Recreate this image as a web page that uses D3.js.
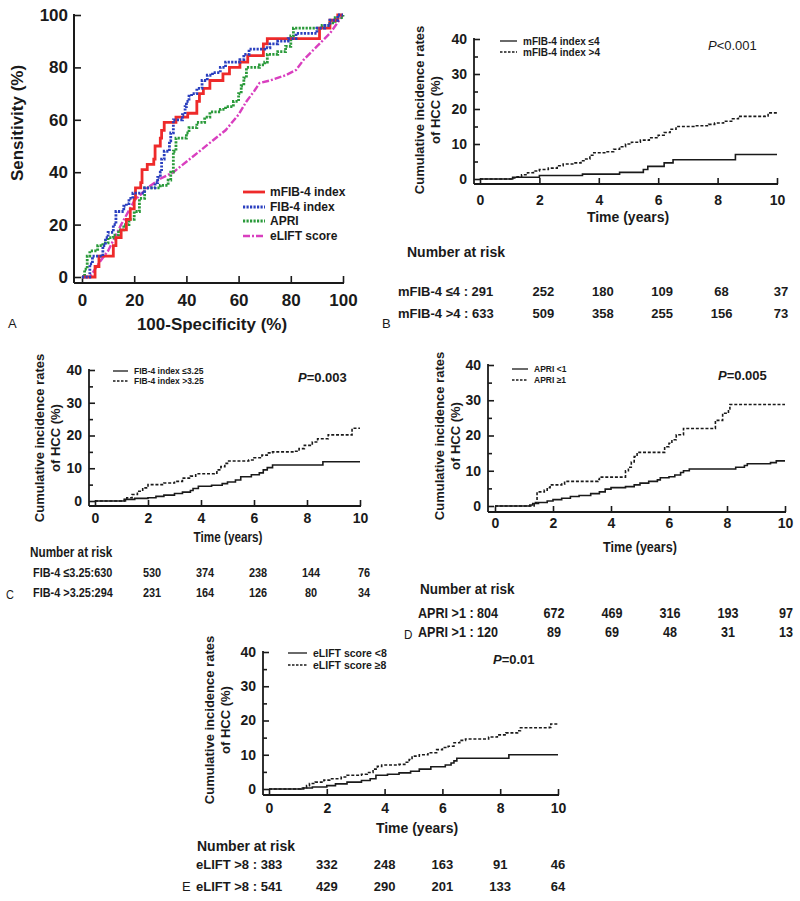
<!DOCTYPE html>
<html><head><meta charset="utf-8">
<script src="https://cdn.jsdelivr.net/npm/d3@7"></script>
<style>body{margin:0;background:#fff}</style>
</head><body><svg id="c" width="800" height="901"></svg>
<script>
// ---------- DATA ----------
// Panel A: ROC curves [100-specificity %, sensitivity %]
const rocMfib4 = [[0,0],[5,4],[6.5,8],[12,12],[13,15],[15,18],[17,22],[18.5,26],[20,30],[20.5,34],[22.5,36],[23,41],[25,43],[27.5,45],[28,50],[30,53],[30.5,56],[31.5,59],[36,61],[38,61],[40.5,62.5],[44,67],[45,70],[46.5,72],[49,75],[54,77.5],[56.5,80],[60.5,82],[63.5,84.5],[69.5,89],[71,91],[91,95],[95,98],[98,100],[100,100]];
const rocFib4 = [[0,0],[2,0],[3,5],[4,8],[8,12],[9,15],[10,17],[12,20],[13,25],[16,27],[17,28],[18,30],[19.5,32],[23,32],[24,34],[28,36],[29,38],[30,40],[30.5,45],[31.5,48],[33.5,52],[34,55],[35,60],[38.5,62],[39.5,65],[40,67],[41,69],[42,70],[44,72],[46,75],[48,77],[50,78],[53,80],[55,82],[60.5,83],[62,85],[64,87],[70,87.5],[72,89],[75,90],[79,91],[82,93],[90,95],[93,96],[95,98],[98,100],[100,100]];
const rocApri = [[0,0],[1,3],[2,8],[3,10],[6,12],[8,13],[10,15],[12,16],[14,18],[16,20],[18,22],[20,25],[22,30],[24,34],[30,35],[33,37],[34,40],[35,48],[36,53],[40,55],[41,57],[44,59],[47,61],[49,63],[53,64],[55,65],[58,67],[60,70],[61,73],[62,76],[63,80],[68,81],[70,82],[71,85],[75,86],[78,88],[80,92],[81,95],[92,96],[95,97],[97,99],[100,100]];
const rocElift = [[0,0],[3,0],[5,3],[7,6],[10,10],[15,20],[20,29],[25,34],[30,37.5],[35,40],[40,44],[45,48],[50,52],[55,56],[60,62],[63,67],[66,71],[68,74],[72,75],[78,77],[82,79],[85,83],[90,88],[95,93],[100,100]];
const rocNames = ["mFIB-4 index","FIB-4 index","APRI","eLIFT score"];
const rocTicks = [0,20,40,60,80,100];

// KM curves [time (years), cumulative incidence %]
const kmBLow = [[0,0],[1.1,0.5],[2,1],[3.45,1.4],[4.7,1.9],[5.5,2.7],[5.65,3.6],[6.2,4.6],[6.5,5.5],[8.6,7],[10,7]];
const kmBHigh = [[0,0],[1.1,0.3],[1.2,0.6],[1.4,1.2],[1.6,1.8],[1.8,2.3],[2,2.7],[2.3,3.1],[2.6,3.8],[2.8,4.3],[3.2,4.6],[3.4,5.2],[3.5,5.7],[3.7,6.8],[3.8,7.5],[4.2,7.8],[4.5,8.5],[4.7,9.2],[4.9,10],[5.1,10.5],[5.4,11.1],[5.7,11.8],[6,12.5],[6.2,13.3],[6.4,14.2],[6.6,15],[7.2,15.2],[7.7,15.6],[7.9,16],[8.2,16.5],[8.5,17.2],[8.7,17.9],[9.6,18],[9.7,18.9],[10,18.9]];
const kmCLow = [[0,0],[1.15,0.5],[1.5,0.8],[2,1],[2.3,1.4],[2.6,1.8],[3,2.3],[3.3,2.7],[3.6,3.2],[3.7,3.8],[3.9,4.5],[4.4,4.8],[4.8,5.3],[5,5.8],[5.3,6.4],[5.5,7.4],[5.9,8],[6.2,8.6],[6.35,9.5],[6.5,10.2],[6.7,11],[8.6,12],[10,12]];
const kmCHigh = [[0,0],[1.1,0.5],[1.2,1],[1.4,2],[1.6,3],[1.8,4],[2,5],[2.6,5.5],[3,6],[3.3,7],[3.6,7.6],[3.8,8.3],[4.5,8.5],[4.6,9.5],[4.75,10.5],[4.9,11.5],[5,12.2],[5.8,12.5],[6,13.2],[6.3,14],[6.5,14.7],[6.7,15],[7.5,15.2],[7.7,16],[7.9,17],[8.2,18],[8.4,19],[8.8,20.2],[9.7,22.2],[10,22.2]];
const kmDLow = [[0,0],[1.2,0.3],[1.3,0.7],[1.5,1],[1.8,1.4],[2,1.8],[2.3,2.2],[2.6,2.7],[2.9,3],[3.3,3.5],[3.6,4],[3.8,4.8],[4,5.2],[4.5,5.5],[4.8,6],[5,6.5],[5.3,7],[5.6,7.4],[5.7,8],[6,8.3],[6.2,8.8],[6.4,9.5],[6.5,10],[6.7,10.5],[8.3,11],[8.6,11.5],[8.7,12],[9.5,12.3],[9.7,12.8],[10,12.8]];
const kmDHigh = [[0,0],[1.35,1],[1.45,4],[1.7,4.5],[1.8,5.2],[1.9,6],[2.3,6.2],[2.4,7],[3.55,7.5],[3.6,8.2],[4.45,8.2],[4.5,10],[4.6,11],[4.7,12.5],[4.8,14],[4.9,15.2],[5.8,15.2],[5.85,16.8],[6,17.8],[6.1,18.8],[6.25,20.2],[6.5,22],[7.5,22],[7.6,24.3],[7.85,26.3],[8.05,27.5],[8.1,28.8],[10,28.8]];
const kmELow = [[0,0],[1.2,0.3],[1.5,0.6],[2,1],[2.3,1.5],[2.7,2],[3.2,2.5],[3.5,3],[3.7,4],[4.1,4.3],[4.5,4.7],[4.9,5.2],[5.2,5.8],[5.6,6.5],[6.1,7],[6.3,7.6],[6.4,8.2],[6.5,9],[8.3,10],[10,10]];
const kmEHigh = [[0,0],[1.1,0.3],[1.3,1],[1.4,1.6],[1.6,2],[1.9,2.6],[2.1,3],[2.5,3.5],[2.7,4],[3.2,4.3],[3.4,4.8],[3.6,5.8],[3.75,6.6],[3.9,7],[4.5,7.2],[4.7,7.8],[4.85,8.6],[4.95,9.6],[5.2,10],[5.5,10.6],[5.8,11.5],[6,12.1],[6.2,12.5],[6.4,13.5],[6.6,14.2],[6.8,14.6],[7.6,15.2],[7.9,15.8],[8.2,16.4],[8.6,17],[8.7,17.9],[9.7,18],[9.75,19],[10,19]];
const kmXTicks = [0,2,4,6,8,10];
const kmYTicks = [0,10,20,30,40];
const kmYMinor = [5,15,25,35];

// Legends / p-values
const legB = ["mFIB-4 index \u22644","mFIB-4 index >4"];
const legC = ["FIB-4 index \u22643.25","FIB-4 index >3.25"];
const legD = ["APRI <1","APRI \u22651"];
const legE = ["eLIFT score <8","eLIFT score \u22658"];
const pB = ["<0.001"], pC = ["=0.003"], pD = ["=0.005"], pE = ["=0.01"];

// Number at risk (times 0,2,4,6,8,10)
const riskTimes = [0,2,4,6,8,10];
const riskBLabels = ["mFIB-4 \u22644 : ","mFIB-4 >4 : "];
const riskB = [[291,252,180,109,68,37],[633,509,358,255,156,73]];
const riskCLabels = ["FIB-4 \u22643.25:","FIB-4 >3.25:"];
const riskC = [[630,530,374,238,144,76],[294,231,164,126,80,34]];
const riskDLabels = ["APRI >1 : ","APRI >1 : "];
const riskD = [[804,672,469,316,193,97],[120,89,69,48,31,13]];
const riskELabels = ["eLIFT >8 : ","eLIFT >8 : "];
const riskE = [[383,332,248,163,91,46],[541,429,290,201,133,64]];

// ---------- DRAWING ----------
const svg = d3.select("#c");
const FM = "'Liberation Sans', Arial, sans-serif";
const INK = "#1a1a1a";

function txt(g, x, y, s, o = {}) {
  const t = g.append("text").text(s)
    .attr("font-family", FM)
    .attr("font-size", o.size || 13)
    .attr("font-weight", o.bold === false ? "normal" : "bold")
    .attr("text-anchor", o.anchor || "start")
    .attr("fill", INK);
  if (o.sx) t.attr("x", 0).attr("y", 0).attr("transform", `translate(${x},${y}) scale(${o.sx},1)`);
  else t.attr("x", x).attr("y", y);
  return t;
}
function styleAxis(g, size) {
  g.selectAll(".tick line").attr("stroke", INK).attr("stroke-width", 1.6);
  g.selectAll(".tick text").attr("font-family", FM).attr("font-size", size)
    .attr("font-weight", "bold").attr("fill", INK);
  g.attr("font-family", null).attr("font-size", null);
}

// ----- Panel A (ROC) -----
(function () {
  const g = svg.append("g");
  const x = d3.scaleLinear().domain([0, 100]).range([82, 343]);
  const y = d3.scaleLinear().domain([0, 100]).range([277, 15]);
  const axX = 74, axY = 283;
  const gy = g.append("g").attr("transform", `translate(${axX},0)`)
    .call(d3.axisLeft(y).tickValues(rocTicks).tickSize(-7).tickPadding(6).tickSizeOuter(0));
  gy.select(".domain").remove(); styleAxis(gy, 17);
  const gx = g.append("g").attr("transform", `translate(0,${axY})`)
    .call(d3.axisBottom(x).tickValues(rocTicks).tickSize(-7).tickPadding(11).tickSizeOuter(0));
  gx.select(".domain").remove(); styleAxis(gx, 17);
  g.append("line").attr("x1", axX).attr("x2", axX).attr("y1", axY).attr("y2", y(100) - 1).attr("stroke", INK).attr("stroke-width", 2);
  g.append("line").attr("x1", axX).attr("x2", x(100) + 1).attr("y1", axY).attr("y2", axY).attr("stroke", INK).attr("stroke-width", 2);

  const step = d3.line().x(d => x(d[0])).y(d => y(d[1])).curve(d3.curveStepAfter);
  const lin = d3.line().x(d => x(d[0])).y(d => y(d[1]));
  const series = [
    {d: rocElift, gen: lin, c: "#d93fbf", w: 2.4, da: "7,2,2,2"},
    {d: rocApri, gen: step, c: "#2a9a3a", w: 2.8, da: "2.2,1.3"},
    {d: rocMfib4, gen: step, c: "#ee2a2a", w: 2.8, da: null},
    {d: rocFib4, gen: step, c: "#2a3fbf", w: 2.8, da: "2.2,1.3"}
  ];
  series.forEach(s => {
    g.append("path").attr("d", s.gen(s.d)).attr("fill", "none").attr("stroke", s.c)
      .attr("stroke-width", s.w).attr("stroke-dasharray", s.da);
  });
  const legOrder = [series[2], series[3], series[1], series[0]];
  const ly = [192, 207, 221, 236];
  legOrder.forEach((s, i) => {
    g.append("line").attr("x1", 243).attr("x2", 265).attr("y1", ly[i]).attr("y2", ly[i])
      .attr("stroke", s.c).attr("stroke-width", s.w).attr("stroke-dasharray", s.da);
    txt(g, 270, ly[i] + 4, rocNames[i], {size: 12});
  });
  txt(g, 0, 0, "Sensitivity (%)", {size: 17, anchor: "middle"})
    .attr("transform", "translate(23,123) rotate(-90)");
  txt(g, 212, 330, "100-Specificity (%)", {size: 17, anchor: "middle"});
  txt(g, 8, 328, "A", {size: 13, bold: false});
})();

// ----- KM panels -----
function kmPanel(c) {
  const g = svg.append("g");
  const x = d3.scaleLinear().domain([0, 10]).range([c.xL, c.xR]);
  const y = d3.scaleLinear().domain([0, 40]).range([c.y0, c.yTop]);
  const gy = g.append("g").attr("transform", `translate(${c.axX},0)`)
    .call(d3.axisLeft(y).tickValues(kmYTicks).tickSize(-6).tickPadding(7).tickSizeOuter(0));
  gy.select(".domain").remove(); styleAxis(gy, 14);
  const gm = g.append("g").attr("transform", `translate(${c.axX},0)`)
    .call(d3.axisLeft(y).tickValues(kmYMinor).tickSize(-4).tickFormat("").tickSizeOuter(0));
  gm.select(".domain").remove(); styleAxis(gm, 14);
  const gx = g.append("g").attr("transform", `translate(0,${c.axY})`)
    .call(d3.axisBottom(x).tickValues(kmXTicks).tickSize(-6).tickPadding(c.xPad).tickSizeOuter(0));
  gx.select(".domain").remove(); styleAxis(gx, 14);
  g.append("line").attr("x1", c.axX).attr("x2", c.axX).attr("y1", c.axY).attr("y2", y(40) - 1).attr("stroke", INK).attr("stroke-width", 1.8);
  g.append("line").attr("x1", c.axX).attr("x2", x(10) + 1).attr("y1", c.axY).attr("y2", c.axY).attr("stroke", INK).attr("stroke-width", 1.8);

  const step = d3.line().x(d => x(d[0])).y(d => y(d[1])).curve(d3.curveStepAfter);
  g.append("path").attr("d", step(c.low)).attr("fill", "none").attr("stroke", INK).attr("stroke-width", 1.6);
  g.append("path").attr("d", step(c.high)).attr("fill", "none").attr("stroke", INK).attr("stroke-width", 1.6).attr("stroke-dasharray", "3,1.8");

  // y label
  const yl = g.append("g").attr("transform", `translate(${c.ylX},${c.ylCY}) rotate(-90)`);
  txt(yl, 0, 0, "Cumulative incidence rates", {size: 13, anchor: "middle"});
  txt(yl, 0, 16, "of HCC (%)", {size: 13, anchor: "middle"});
  txt(g, c.timeX, c.timeY, "Time (years)", {size: 14, anchor: "middle", sx: c.sx});
  // legend
  c.leg.forEach((s, i) => {
    const ly = c.legY[i];
    g.append("line").attr("x1", c.legX1).attr("x2", c.legX2).attr("y1", ly).attr("y2", ly)
      .attr("stroke", INK).attr("stroke-width", 1.3).attr("stroke-dasharray", i ? "2.5,1.5" : null);
    txt(g, c.legX2 + 6, ly + c.legSize * 0.35, s, {size: c.legSize});
  });
  const pt = txt(g, c.pX, c.pY, "", {size: 13, bold: c.pBold});
  pt.append("tspan").attr("font-style", "italic").text("P");
  pt.append("tspan").text(c.p[0]);
  // number at risk
  txt(g, c.nrX, c.nrY, "Number at risk", {size: c.tSize + 1, sx: c.sx});
  c.riskLabels.forEach((lab, r) => {
    const yy = c.rowY[r];
    txt(g, c.rowX, yy, lab + c.risk[r][0], {size: c.tSize, sx: c.sx});
    c.risk[r].forEach((v, j) => {
      if (j === 0) return;
      txt(g, x(riskTimes[j]) + c.colDx, yy, v, {size: c.tSize, anchor: "middle", sx: c.sx});
    });
  });
  txt(g, c.letX, c.letY, c.letter, {size: 13, bold: false, sx: c.sx});
}

kmPanel({xL: 480, xR: 777, y0: 179, yTop: 39, axX: 474, axY: 184, xPad: 11,
  low: kmBLow, high: kmBHigh, ylX: 424, ylCY: 110, timeX: 628, timeY: 222,
  leg: legB, legX1: 500, legX2: 517, legY: [41, 52], legSize: 10,
  p: pB, pX: 708, pY: 50, pBold: false,
  nrX: 407, nrY: 257, riskLabels: riskBLabels, risk: riskB, rowX: 398, rowY: [296, 318], tSize: 13, colDx: 4,
  letter: "B", letX: 382, letY: 328});
kmPanel({xL: 95, xR: 360, y0: 501, yTop: 370, axX: 89, axY: 506, xPad: 7, sx: 0.84,
  low: kmCLow, high: kmCHigh, ylX: 44, ylCY: 438, timeX: 228, timeY: 542,
  leg: legC, legX1: 113, legX2: 128, legY: [371, 381], legSize: 8.5,
  p: pC, pX: 298, pY: 382, pBold: true,
  nrX: 30, nrY: 557, riskLabels: riskCLabels, risk: riskC, rowX: 33, rowY: [577, 597], tSize: 13, colDx: 4,
  letter: "C", letX: 6, letY: 599});
kmPanel({xL: 495, xR: 785, y0: 506, yTop: 365, axX: 488, axY: 512, xPad: 6, sx: 0.9,
  low: kmDLow, high: kmDHigh, ylX: 444, ylCY: 436, timeX: 640, timeY: 552,
  leg: legD, legX1: 512, legX2: 528, legY: [369, 380], legSize: 8.5,
  p: pD, pX: 718, pY: 380, pBold: true,
  nrX: 420, nrY: 594, riskLabels: riskDLabels, risk: riskD, rowX: 418, rowY: [618, 637], tSize: 14, colDx: 1,
  letter: "D", letX: 404, letY: 639});
kmPanel({xL: 269, xR: 558, y0: 789, yTop: 652, axX: 263, axY: 795, xPad: 8,
  low: kmELow, high: kmEHigh, ylX: 214, ylCY: 720, timeX: 417, timeY: 833,
  leg: legE, legX1: 288, legX2: 307, legY: [653, 665], legSize: 10.5,
  p: pE, pX: 493, pY: 664, pBold: true,
  nrX: 197, nrY: 851, riskLabels: riskELabels, risk: riskE, rowX: 196, rowY: [869, 891], tSize: 13, colDx: 0,
  letter: "E", letX: 182, letY: 891});
</script></body></html>
